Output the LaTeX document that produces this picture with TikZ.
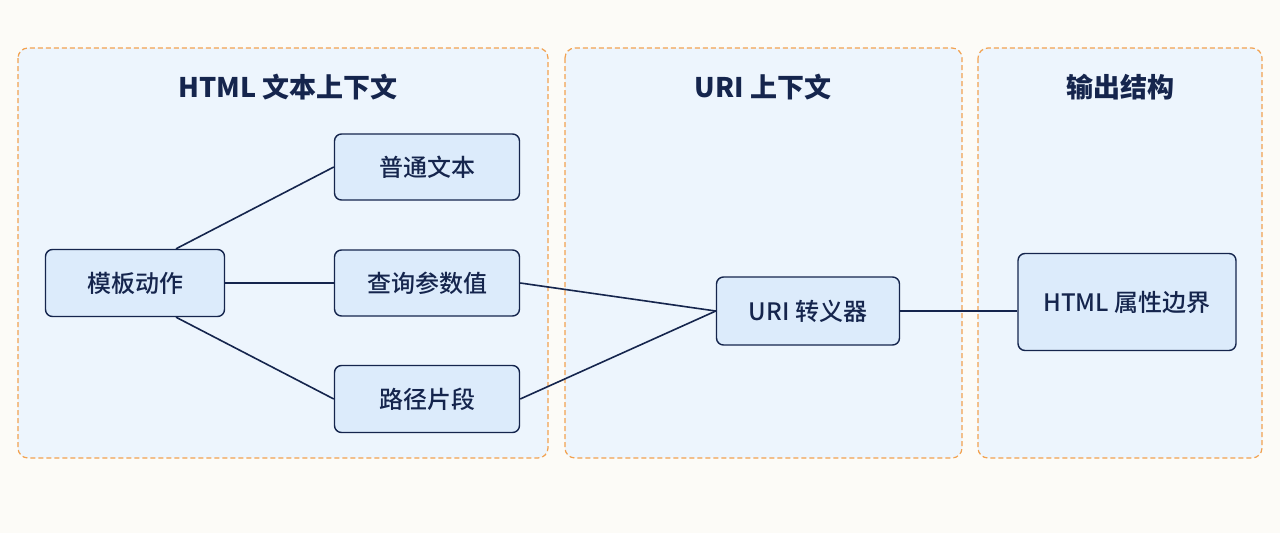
\documentclass[tikz,border=0pt]{standalone}
\usepackage{fontspec}
\setmainfont{Noto Sans CJK SC}
\newfontfamily\med{Noto Sans CJK SC}[UprightFont={* Medium}]
\definecolor{bg}{HTML}{FCFBF7}
\definecolor{pf}{HTML}{EDF5FD}
\definecolor{pb}{HTML}{F2A250}
\definecolor{nf}{HTML}{DCEBFB}
\definecolor{nv}{HTML}{15254D}
\begin{document}
\begin{tikzpicture}[x=1pt,y=-1pt,
  panel/.style={draw=pb, dash pattern=on 5pt off 3pt, line width=1.2pt, fill=pf, rounded corners=10pt},
  box/.style={draw=nv, line width=1.4pt, fill=nf, rounded corners=7pt, font=\fontsize{24}{28}\med, text=nv},
  ttl/.style={font=\fontsize{27}{32}\selectfont\bfseries, text=nv},
  ln/.style={draw=nv, line width=1.6pt}]
\fill[bg] (0,0) rectangle (1280,533);
\useasboundingbox (0,0) rectangle (1280,533);
\draw[panel] (18,48) rectangle (548,458);
\draw[panel] (565,48) rectangle (962,458);
\draw[panel] (978,48) rectangle (1262,458);
\node[ttl] (t1) at (288,87) {HTML 文本上下文};
\node[ttl] (t2) at (763,87) {URI 上下文};
\node[ttl] (t3) at (1120,87) {输出结构};
\node[box, minimum width=179pt, minimum height=67pt] (a) at (135,283) {模板动作};
\node[box, minimum width=185pt, minimum height=66pt] (b) at (427,167) {普通文本};
\node[box, minimum width=185pt, minimum height=66pt] (c) at (427,283) {查询参数值};
\node[box, minimum width=185pt, minimum height=67pt] (d) at (427,399) {路径片段};
\node[box, minimum width=183pt, minimum height=68pt] (e) at (808,311) {URI 转义器};
\node[box, minimum width=218pt, minimum height=97pt] (f) at (1127,302) {HTML 属性边界};
\draw[ln] ([xshift=41pt]a.north) -- (b.west);
\draw[ln] (a.east) -- (c.west);
\draw[ln] ([xshift=41pt]a.south) -- (d.west);
\draw[ln] (c.east) -- (e.west);
\draw[ln] (d.east) -- (e.west);
\draw[ln] (e.east) -- (f.west |- e.east);
\end{tikzpicture}
\end{document}
